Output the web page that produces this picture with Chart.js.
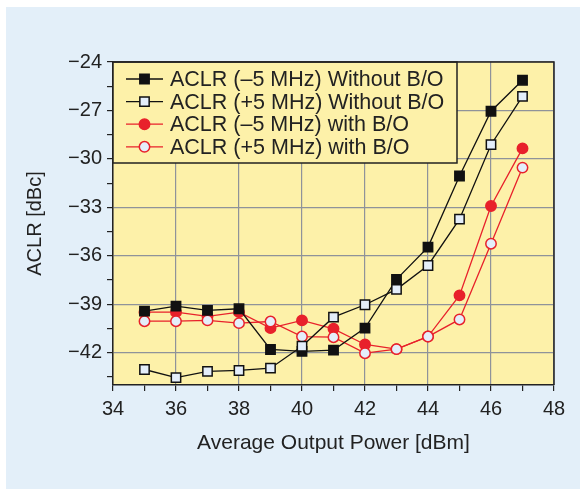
<!DOCTYPE html>
<html>
<head>
<meta charset="utf-8">
<script src="https://cdn.jsdelivr.net/npm/chart.js@4.4.1/dist/chart.umd.min.js"></script>
<style>
html,body{margin:0;padding:0;background:#fff;}
#wrap{width:580px;height:489px;}
</style>
</head>
<body>
<div id="wrap"><canvas id="c" width="580" height="489"></canvas></div>
<script>
// output power, dBm
const power=[35,36,37,38,39,40,41,42,43,44,45,46,47];

// ACLR, dBc
const minus5NoBO=[-39.43,-39.12,-39.38,-39.28,-41.80,-41.92,-41.84,-40.48,-37.46,-35.46,-31.06,-27.05,-25.13];
const plus5NoBO=[-43.04,-43.54,-43.16,-43.10,-42.96,-41.60,-39.80,-39.03,-38.08,-36.60,-33.73,-29.12,-26.13];
const minus5BO=[-39.49,-39.49,-39.75,-39.49,-40.48,-40.00,-40.52,-41.49,-41.78,-41.00,-38.45,-32.92,-29.35];
const plus5BO=[-40.05,-40.05,-40.00,-40.17,-40.07,-41.00,-41.04,-42.03,-41.78,-41.00,-39.94,-35.25,-30.54];

const seriesNames=[
'ACLR (\u20135 MHz) Without B/O',
'ACLR (+5 MHz) Without B/O',
'ACLR (\u20135 MHz) with B/O',
'ACLR (+5 MHz) with B/O'
];

const xTicks=[34,35,36,37,38,39,40,41,42,43,44,45,46,47,48];
const yTicks=[-43.5,-42,-40.5,-39,-37.5,-36,-34.5,-33,-31.5,-30,-28.5,-27,-25.5,-24];

const FONT='"Liberation Sans", Arial, Helvetica, sans-serif';
const RED='#e8212b';
const OPEN='#e4eefa';

function pts(ys){
return power.map((x,i)=>({x:x,y:ys[i]}));
}

function ds(label,ys,color,style,fill,radius){
return {
label:label,
data:pts(ys),
borderColor:color,
borderWidth:1.3,
pointStyle:style,
pointRadius:radius,
pointHoverRadius:radius,
pointBackgroundColor:fill,
pointBorderColor:color,
pointBorderWidth:1.5,
tension:0
};
}

const datasets=[
ds(seriesNames[1],plus5NoBO,'#111','rect',OPEN,6.6),
ds(seriesNames[0],minus5NoBO,'#111','rect','#111',6.6),
ds(seriesNames[3],plus5BO,RED,'circle',OPEN,5.2),
ds(seriesNames[2],minus5BO,RED,'circle',RED,5.2)
];

// legend order as in the figure
const legendOrder=[1,0,3,2];

const background={
id:'background',
beforeDraw(chart){
const ctx=chart.ctx;
const a=chart.chartArea;
ctx.save();
ctx.fillStyle='#fff';
ctx.fillRect(0,0,chart.width,chart.height);
ctx.fillStyle='#e3eff9';
ctx.fillRect(6,7,chart.width-6,chart.height-7);
ctx.fillStyle='#fdf1a9';
ctx.fillRect(a.left,a.top,a.right-a.left,a.bottom-a.top);
ctx.restore();
}
};

const frame={
id:'frame',
afterDatasetsDraw(chart){
const ctx=chart.ctx;
const a=chart.chartArea;
ctx.save();
// legend box
const bx=a.left,by=a.top,bw=344,bh=101;
ctx.fillStyle='#fdf1a9';
ctx.fillRect(bx,by,bw,bh);
ctx.strokeStyle='#222';
ctx.lineWidth=1.5;
ctx.strokeRect(bx,by,bw,bh);
ctx.font='21.5px '+FONT;
ctx.textBaseline='middle';
legendOrder.forEach((di,row)=>{
const d=chart.data.datasets[di];
const y=by+17+row*22.6;
ctx.strokeStyle=d.borderColor;
ctx.lineWidth=1.3;
ctx.beginPath();
ctx.moveTo(bx+13,y);
ctx.lineTo(bx+50,y);
ctx.stroke();
ctx.fillStyle=d.pointBackgroundColor;
ctx.lineWidth=1.5;
ctx.beginPath();
if(d.pointStyle==='rect'){
const s=d.pointRadius*Math.SQRT1_2;
ctx.rect(bx+31.5-s,y-s,2*s,2*s);
}else{
ctx.arc(bx+31.5,y,d.pointRadius,0,Math.PI*2);
}
ctx.fill();
ctx.stroke();
ctx.fillStyle='#222';
ctx.fillText(d.label,bx+57,y+1);
});
// top and right frame
ctx.strokeStyle='#222';
ctx.lineWidth=1.5;
ctx.beginPath();
ctx.moveTo(a.left,a.top);
ctx.lineTo(a.right,a.top);
ctx.lineTo(a.right,a.bottom);
ctx.stroke();
ctx.restore();
}
};

new Chart(document.getElementById('c'),{
type:'line',
data:{datasets:datasets},
options:{
responsive:false,
animation:false,
events:[],
layout:{padding:{top:62,right:26,left:0,bottom:0}},
plugins:{legend:{display:false},tooltip:{enabled:false}},
scales:{
x:{
type:'linear',
min:34,
max:48,
afterBuildTicks(scale){scale.ticks=xTicks.map(v=>({value:v}));},
afterFit(scale){scale.height=104;},
grid:{
color:c=>(c.tick&&c.tick.value%2===0)?'#8f939a':'rgba(0,0,0,0)',
lineWidth:1.2,
tickColor:'#222',
tickLength:6,
tickWidth:1.2
},
border:{color:'#222',width:1.5},
ticks:{
padding:6,
color:'#222',
font:{family:FONT,size:20},
maxRotation:0,
autoSkip:false,
callback:v=>v%2===0?String(v):''
},
title:{
display:true,
text:'Average Output Power [dBm]',
color:'#222',
font:{family:FONT,size:21},
padding:{top:0,bottom:33}
}
},
y:{
min:-44,
max:-24,
afterBuildTicks(scale){scale.ticks=yTicks.map(v=>({value:v}));},
afterFit(scale){scale.width=113;},
grid:{
color:c=>(c.tick&&Math.abs(c.tick.value%3)<1e-6)?'#8f939a':'rgba(0,0,0,0)',
lineWidth:1.2,
tickColor:'#222',
tickLength:6,
tickWidth:1.2
},
border:{color:'#222',width:1.5},
ticks:{
padding:5,
color:'#222',
font:{family:FONT,size:20},
autoSkip:false,
callback:v=>Math.abs(v%3)<1e-6?'\u2212'+Math.abs(v):''
},
title:{
display:true,
text:'ACLR [dBc]',
color:'#222',
font:{family:FONT,size:20},
padding:{top:23,bottom:0}
}
}
}
},
plugins:[background,frame]
});
</script>
</body>
</html>
